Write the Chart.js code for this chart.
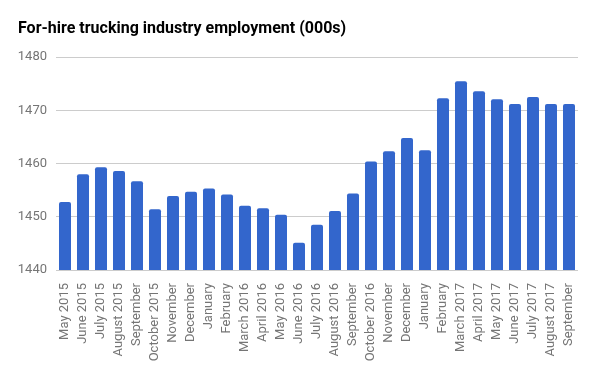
<!DOCTYPE html>
<html>
<head>
<meta charset="utf-8">
<script src="https://cdn.jsdelivr.net/npm/chart.js@4/dist/chart.umd.min.js"></script>
<style>
  html, body { margin: 0; padding: 0; background: #fff; }
  #wrap { width: 600px; height: 371px; }
</style>
</head>
<body>
<div id="wrap"><canvas id="myChart" width="600" height="371"></canvas></div>
<script>
// Mois (libellés de l'axe x)
var months = [
    'May 2015', 'June 2015', 'July 2015', 'August 2015', 'September',
    'October 2015', 'November', 'December', 'January', 'February',
    'March 2016', 'April 2016', 'May 2016', 'June 2016', 'July 2016',
    'August 2016', 'September', 'October 2016', 'November', 'December',
    'January', 'February', 'March 2017', 'April 2017', 'May 2017',
    'June 2017', 'July 2017', 'August 2017', 'September'
];

// Emploi en milliers
var employment = [
    1452.8, 1458.0, 1459.3, 1458.6, 1456.7,
    1451.4, 1453.9, 1454.7, 1455.3, 1454.2,
    1452.1, 1451.6, 1450.4, 1445.1, 1448.5,
    1451.1, 1454.4, 1460.4, 1462.3, 1464.8,
    1462.5, 1472.3, 1475.5, 1473.6, 1472.1,
    1471.2, 1472.5, 1471.2, 1471.2
];

var yTicks = [1440, 1450, 1460, 1470, 1480];

var ctx = document.getElementById('myChart').getContext('2d');
var myChart = new Chart(ctx, {
    type: 'bar',
    data: {
        labels: months,
        datasets: [{
            label: 'Employment',
            data: employment,
            backgroundColor: '#3366cc',
            borderRadius: { topLeft: 2, topRight: 2 },
            borderSkipped: 'bottom',
            categoryPercentage: 1,
            barPercentage: 0.667
        }]
    },
    options: {
        responsive: false,
        animation: false,
        layout: { padding: { left: 18, right: 22, top: 0, bottom: 0 } },
        plugins: {
            legend: { display: false },
            tooltip: { enabled: false },
            title: {
                display: true,
                text: 'For-hire trucking industry employment (000s)',
                align: 'start',
                color: '#000',
                font: { family: 'Roboto', size: 16, weight: 'bold' },
                padding: { top: 19, bottom: 19 }
            }
        },
        scales: {
            x: {
                grid: { display: false },
                border: { display: false },
                ticks: {
                    color: '#757575',
                    font: { family: 'Roboto', size: 13 },
                    minRotation: 90,
                    maxRotation: 90,
                    autoSkip: false,
                    padding: 5
                },
                afterFit: function (scale) { scale.height = 101; }
            },
            y: {
                min: 1440,
                max: 1480,
                afterBuildTicks: function (scale) {
                    scale.ticks = yTicks.map(function (v) { return { value: v }; });
                },
                grid: { color: '#cccccc', drawTicks: false },
                border: { display: false },
                ticks: {
                    color: '#757575',
                    font: { family: 'Roboto', size: 13 },
                    padding: 9,
                    callback: function (value) { return String(value); }
                },
                afterFit: function (scale) { scale.width = 38; }
            }
        }
    }
});
</script>
</body>
</html>
